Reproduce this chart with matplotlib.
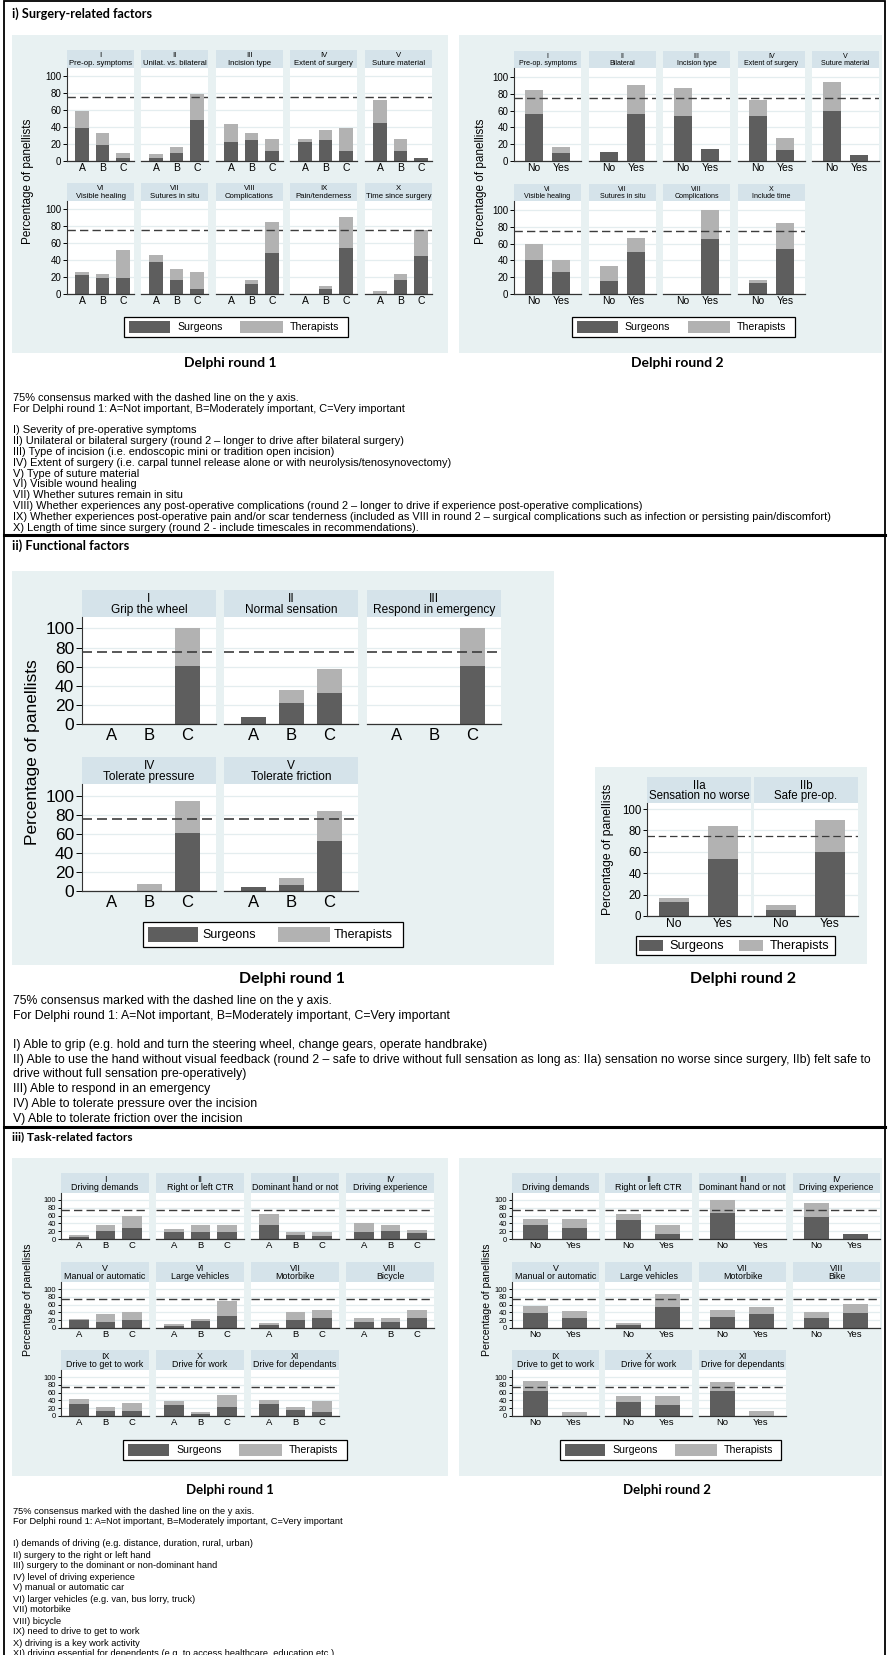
import numpy as np
import matplotlib
matplotlib.use("Agg")
import matplotlib.pyplot as plt
from matplotlib.patches import Rectangle
from matplotlib.lines import Line2D

W, H = 888, 1655
DARK = "#5e5e5e"
LIGHT = "#b2b2b2"
PANEL_BG = "#e8f1f2"
STRIP_BG = "#d5e3ea"
GRID = "#e4edef"
SANS = ["Liberation Sans", "DejaVu Sans"]
BOLD = ["Lato", "DejaVu Sans"]

# ---- i) surgery-related factors ----
i1_roman = ["I", "II", "III", "IV", "V", "VI", "VII", "VIII", "IX", "X"]
i1_names = ["Pre-op. symptoms", "Unilat. vs. bilateral", "Incision type", "Extent of surgery",
            "Suture material", "Visible healing", "Sutures in situ", "Complications",
            "Pain/tenderness", "Time since surgery"]
i1_surg = [[39, 19, 3], [3, 10, 48], [22, 25, 12], [22, 25, 12], [45, 12, 3],
           [22, 19, 19], [38, 16, 6], [0, 12, 48], [0, 6, 54], [0, 16, 45]]
i1_ther = [[20, 14, 7], [5, 7, 31], [21, 8, 14], [4, 11, 27], [27, 14, 1],
           [4, 4, 33], [8, 13, 20], [0, 5, 37], [0, 4, 37], [3, 7, 30]]

i2_roman = ["I", "II", "III", "IV", "V", "VI", "VII", "VIII", "X"]
i2_names = ["Pre-op. symptoms", "Bilateral", "Incision type", "Extent of surgery",
            "Suture material", "Visible healing", "Sutures in situ", "Complications",
            "Include time"]
i2_surg = [[56, 10], [11, 56], [53, 14], [53, 13], [59, 7], [40, 26], [16, 50], [0, 66], [13, 53]]
i2_ther = [[28, 7], [0, 35], [34, 0], [20, 14], [35, 0], [20, 14], [17, 17], [0, 34], [4, 31]]

# ---- ii) functional factors ----
ii1_roman = ["I", "II", "III", "IV", "V"]
ii1_names = ["Grip the wheel", "Normal sensation", "Respond in emergency",
             "Tolerate pressure", "Tolerate friction"]
ii1_surg = [[0, 0, 61], [7, 22, 32], [0, 0, 61], [0, 0, 61], [4, 6, 52]]
ii1_ther = [[0, 0, 39], [0, 14, 26], [0, 0, 39], [0, 7, 33], [0, 8, 32]]

ii2_roman = ["IIa", "IIb"]
ii2_names = ["Sensation no worse", "Safe pre-op."]
ii2_surg = [[13, 53], [6, 60]]
ii2_ther = [[4, 31], [4, 30]]

# ---- iii) task-related factors ----
iii1_roman = ["I", "II", "III", "IV", "V", "VI", "VII", "VIII", "IX", "X", "XI"]
iii1_names = ["Driving demands", "Right or left CTR", "Dominant hand or not", "Driving experience",
              "Manual or automatic", "Large vehicles", "Motorbike", "Bicycle",
              "Drive to get to work", "Drive for work", "Drive for dependants"]
iii1_surg = [[5, 21, 28], [18, 18, 18], [35, 11, 8], [18, 21, 15], [20, 15, 21], [6, 19, 32],
             [8, 21, 26], [15, 15, 26], [32, 12, 12], [29, 6, 23], [31, 16, 9]]
iii1_ther = [[4, 16, 30], [8, 19, 19], [29, 8, 9], [23, 16, 9], [4, 22, 19], [3, 4, 38],
             [5, 19, 21], [11, 11, 21], [12, 11, 21], [9, 4, 32], [10, 7, 29]]

iii2_names = iii1_names[:7] + ["Bike"] + iii1_names[8:]
iii2_surg = [[35, 28], [49, 14], [67, 0], [56, 12], [38, 25], [8, 55], [28, 35], [25, 38],
             [63, 0], [35, 28], [65, 0]]
iii2_ther = [[16, 23], [15, 23], [33, 0], [36, 0], [19, 18], [4, 33], [19, 18], [15, 23],
             [27, 10], [17, 24], [23, 13]]

abc = ["A", "B", "C"]
noyes = ["No", "Yes"]

notes_head = ["75% consensus marked with the dashed line on the y axis.",
              "For Delphi round 1: A=Not important, B=Moderately important, C=Very important"]
notes_i = [
    "I) Severity of pre-operative symptoms",
    "II) Unilateral or bilateral surgery (round 2 \u2013 longer to drive after bilateral surgery)",
    "III) Type of incision (i.e. endoscopic mini or tradition open incision)",
    "IV) Extent of surgery (i.e. carpal tunnel release alone or with neurolysis/tenosynovectomy)",
    "V) Type of suture material",
    "VI) Visible wound healing",
    "VII) Whether sutures remain in situ",
    "VIII) Whether experiences any post-operative complications (round 2 \u2013 longer to drive if experience post-operative complications)",
    "IX) Whether experiences post-operative pain and/or scar tenderness (included as VIII in round 2 \u2013 surgical complications such as infection or persisting pain/discomfort)",
    "X) Length of time since surgery (round 2 - include timescales in recommendations).",
]
notes_ii = [
    "I) Able to grip (e.g. hold and turn the steering wheel, change gears, operate handbrake)",
    "II) Able to use the hand without visual feedback (round 2 \u2013 safe to drive without full sensation as long as: IIa) sensation no worse since surgery, IIb) felt safe to",
    "drive without full sensation pre-operatively)",
    "III) Able to respond in an emergency",
    "IV) Able to tolerate pressure over the incision",
    "V) Able to tolerate friction over the incision",
]
notes_iii = [
    "I) demands of driving (e.g. distance, duration, rural, urban)",
    "II) surgery to the right or left hand",
    "III) surgery to the dominant or non-dominant hand",
    "IV) level of driving experience",
    "V) manual or automatic car",
    "VI) larger vehicles (e.g. van, bus lorry, truck)",
    "VII) motorbike",
    "VIII) bicycle",
    "IX) need to drive to get to work",
    "X) driving is a key work activity",
    "XI) driving essential for dependents (e.g. to access healthcare, education etc.).",
]

fig = plt.figure(figsize=(W / 100, H / 100), dpi=100)


def box(x0, y0, x1, y1):
    return [x0 / W, 1 - y1 / H, (x1 - x0) / W, (y1 - y0) / H]


def ftxt(x, y, s, **kw):
    kw.setdefault("family", SANS)
    fig.text(x / W, 1 - y / H, s, **kw)


def frect(x0, y0, x1, y1, **kw):
    fig.add_artist(Rectangle((x0 / W, 1 - y1 / H), (x1 - x0) / W, (y1 - y0) / H,
                             transform=fig.transFigure, **kw))


def hline(x0, x1, y, lw):
    fig.add_artist(Line2D([x0 / W, x1 / W], [1 - y / H, 1 - y / H], color="black",
                          lw=lw, transform=fig.transFigure))


def facet(x0, top, w, lay, roman, name, cats, surg, ther, first):
    sb = top + lay["strip_h"]
    frect(x0, top, x0 + w, sb, facecolor=STRIP_BG, edgecolor="none", zorder=-1)
    ftxt(x0 + w / 2, top + lay["strip_h"] * 0.33, roman, ha="center", va="center",
         fontsize=lay["fs_strip"])
    ftxt(x0 + w / 2, top + lay["strip_h"] * 0.74, name, ha="center", va="center",
         fontsize=lay["fs_strip"])
    base = lay["base_off"]
    ax = fig.add_axes(box(x0, sb, x0 + w, sb + base))
    x = np.arange(1, len(cats) + 1)
    ax.bar(x, surg, lay["bar_w"], color=DARK, zorder=2)
    ax.bar(x, ther, lay["bar_w"], bottom=surg, color=LIGHT, zorder=2)
    ax.axhline(75, color="#3c3c3c", lw=lay["dash_lw"], ls=(0, (6, 3)), zorder=3)
    ax.set_xlim(*lay["xlim"])
    ax.set_ylim(0, 100 * base / (base - lay["y100_off"]))
    ax.set_yticks(range(0, 101, 20))
    ax.yaxis.grid(True, color=GRID, lw=0.9)
    ax.set_axisbelow(True)
    ax.set_xticks(x, cats)
    ax.tick_params(axis="x", length=0, pad=lay["xpad"], labelsize=lay["fs_x"])
    for lbl in ax.get_xticklabels() + ax.get_yticklabels():
        lbl.set_family(SANS)
    for side in ("top", "right"):
        ax.spines[side].set_visible(False)
    ax.spines["bottom"].set_color("#333333")
    ax.spines["bottom"].set_linewidth(0.9)
    if first:
        ax.spines["left"].set_color("#333333")
        ax.spines["left"].set_linewidth(0.8)
        ax.tick_params(axis="y", length=lay["ytick_len"], width=0.7, pad=1,
                       labelsize=lay["fs_y"], colors="black")
    else:
        ax.spines["left"].set_visible(False)
        ax.tick_params(axis="y", length=0, labelleft=False)
    ax.set_facecolor("white")


def panel(romans, names, cats, surg, ther, cols, rows, w, ncols, lay):
    for k in range(len(names)):
        r, c = divmod(k, ncols)
        facet(cols[c], rows[r], w, lay, romans[k], names[k], cats, surg[k], ther[k], c == 0)


def legend(x0, y0, x1, y1, sw, tx, fs):
    frect(x0, y0, x1, y1, facecolor="white", edgecolor="black", lw=0.9, zorder=1)
    w, h = x1 - x0, y1 - y0
    for (a, b), t, col, lab in zip(sw, tx, (DARK, LIGHT), ("Surgeons", "Therapists")):
        frect(x0 + a * w, y0 + 0.22 * h, x0 + b * w, y0 + 0.8 * h, facecolor=col,
              edgecolor="none", zorder=2)
        ftxt(x0 + t * w, y0 + 0.52 * h, lab, ha="left", va="center", fontsize=fs)


def ylabel(x, y, fs):
    ftxt(x, y, "Percentage of panellists", rotation=90, ha="center", va="center", fontsize=fs)


def notes(lines, y0, step, fs):
    for k, s in enumerate(lines):
        if s:
            ftxt(13, y0 + k * step, s, ha="left", va="center", fontsize=fs)


def heading(y, s, fs):
    ftxt(12, y, s, family=BOLD, fontweight="bold", fontsize=fs, ha="left", va="center")


def caption(x, y, s, fs):
    ftxt(x, y, s, family=BOLD, fontweight="bold", fontsize=fs, ha="center", va="center")


# frame and section dividers
frect(4, 1, 885, 1660, facecolor="none", edgecolor="black", lw=1.3, zorder=5)
hline(4, 885, 535, 2.2)
hline(4, 885, 1127, 2.2)

# ================= section i =================
heading(14, "i) Surgery-related factors", 9.1)
frect(12, 35, 448, 353, facecolor=PANEL_BG, edgecolor="none", zorder=-2)
frect(459, 35, 882, 353, facecolor=PANEL_BG, edgecolor="none", zorder=-2)

lay_i1 = dict(strip_h=18, base_off=93, y100_off=8, xlim=(0.25, 3.55), bar_w=0.67,
              fs_strip=5.6, fs_x=7.5, fs_y=7, xpad=1.5, ytick_len=3, dash_lw=1.0)
panel(i1_roman, i1_names, abc, i1_surg, i1_ther, [67, 141, 216, 290, 365], [50, 183], 67, 5, lay_i1)
lay_i2 = dict(lay_i1, strip_h=17, y100_off=9, xlim=(0.26, 2.74), bar_w=0.63, fs_strip=5.1)
panel(i2_roman, i2_names, noyes, i2_surg, i2_ther, [514, 589, 663, 738, 812], [51, 184], 67, 5, lay_i2)

ylabel(28, 181, 8.5)
ylabel(481, 181, 8.5)
legend(124, 317, 348, 337, [(0.022, 0.205), (0.52, 0.71)], [0.237, 0.74], 7.6)
legend(572, 317, 795, 337, [(0.022, 0.205), (0.52, 0.71)], [0.237, 0.74], 7.6)
caption(230, 363, "Delphi round 1", 10)
caption(677, 363, "Delphi round 2", 10)

notes(notes_head + [""] + notes_i, 398, 10.8, 7.9)

# ================= section ii =================
heading(546, "ii) Functional factors", 9.3)
frect(12, 571, 554, 965, facecolor=PANEL_BG, edgecolor="none", zorder=-2)
frect(595, 767, 867, 964, facecolor=PANEL_BG, edgecolor="none", zorder=-2)

lay_ii1 = dict(strip_h=27, base_off=107, y100_off=11.5, xlim=(0.22, 3.75), bar_w=0.65,
               fs_strip=8.6, fs_x=12, fs_y=12.5, xpad=3, ytick_len=4.5, dash_lw=1.2)
panel(ii1_roman, ii1_names, abc, ii1_surg, ii1_ther, [82, 224, 367], [590, 757], 134, 3, lay_ii1)
lay_ii2 = dict(strip_h=26, base_off=113, y100_off=6, xlim=(0.45, 2.57), bar_w=0.61,
               fs_strip=8.3, fs_x=8.7, fs_y=8.3, xpad=1.5, ytick_len=3, dash_lw=0.9)
panel(ii2_roman, ii2_names, noyes, ii2_surg, ii2_ther, [647, 754], [777], 104, 2, lay_ii2)

ylabel(32, 752, 12.5)
ylabel(608, 849, 8.8)
legend(143, 922, 403, 947, [(0.02, 0.21), (0.52, 0.72)], [0.23, 0.735], 9)
legend(636, 936, 835, 955, [(0.015, 0.136), (0.52, 0.64)], [0.166, 0.67], 9.2)
caption(292, 979, "Delphi round 1", 11.5)
caption(743, 979, "Delphi round 2", 11.5)

notes(notes_head + [""] + notes_ii, 1001, 14.7, 8.8)

# ================= section iii =================
heading(1137, "iii) Task-related factors", 8.5)
frect(12, 1158, 448, 1476, facecolor=PANEL_BG, edgecolor="none", zorder=-2)
frect(459, 1158, 882, 1476, facecolor=PANEL_BG, edgecolor="none", zorder=-2)

lay_iii1 = dict(strip_h=20, base_off=46, y100_off=7, xlim=(0.32, 3.64), bar_w=0.72,
                fs_strip=6.4, fs_x=6.8, fs_y=5.4, xpad=1.5, ytick_len=2.5, dash_lw=1.0)
panel(iii1_roman, iii1_names, abc, iii1_surg, iii1_ther, [61, 156, 251, 346],
      [1173, 1262, 1350], 88, 4, lay_iii1)
lay_iii2 = dict(lay_iii1, xlim=(0.41, 2.64), bar_w=0.64)
panel(iii1_roman, iii2_names, noyes, iii2_surg, iii2_ther, [512, 605, 699, 793],
      [1173, 1262, 1350], 87, 4, lay_iii2)

ylabel(28, 1300, 7.6)
ylabel(487, 1300, 7.6)
legend(123, 1440, 347, 1460, [(0.022, 0.205), (0.52, 0.71)], [0.237, 0.74], 7.6)
legend(560, 1440, 781, 1460, [(0.022, 0.205), (0.52, 0.71)], [0.237, 0.74], 7.6)
caption(230, 1490, "Delphi round 1", 9.5)
caption(667, 1490, "Delphi round 2", 9.5)

notes(notes_head + [""] + notes_iii, 1511, 11.0, 6.7)

fig.savefig("out.png", dpi=100)
